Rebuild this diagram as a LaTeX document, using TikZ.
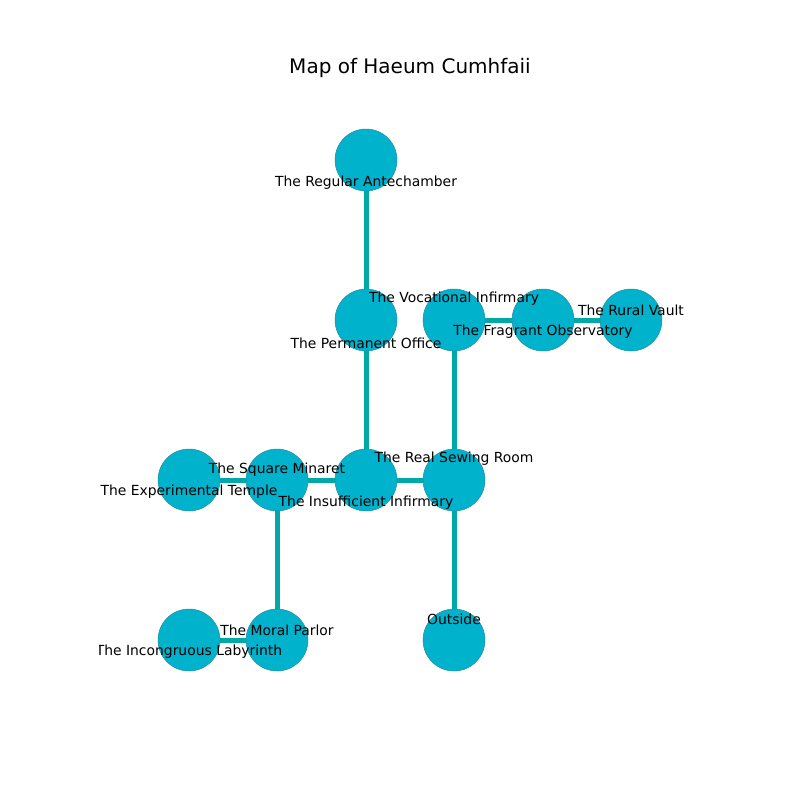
\documentclass[tikz,border=0pt]{standalone}
\usepackage{fontspec}
\setmainfont{DejaVu Sans}
\definecolor{nodefill}{RGB}{0,178,204}
\definecolor{nodeedge}{RGB}{40,140,160}
\definecolor{linkcol}{RGB}{0,168,168}
\begin{document}
\begin{tikzpicture}[x=1pt,y=-1pt,
  room/.style={circle,minimum size=62pt,inner sep=0pt,fill=nodefill,draw=nodeedge,line width=0.5pt},
  link/.style={draw=linkcol,line width=5pt},
  lbl/.style={inner sep=0pt,font=\fontsize{13.9}{16}\selectfont,text=black}]
\useasboundingbox (0,0) rectangle (800,800);
\node[font=\fontsize{20}{24}\selectfont] (title) at (410,68) {Map of Haeum Cumhfaii};
% node positions
\coordinate (pA) at (366,160);
\coordinate (pP) at (366,320);
\coordinate (pV) at (454,320);
\coordinate (pF) at (543,320);
\coordinate (pR) at (631,320);
\coordinate (pE) at (189,480);
\coordinate (pS) at (277,480);
\coordinate (pI) at (366,480);
\coordinate (pW) at (454,480);
\coordinate (pL) at (189,640);
\coordinate (pM) at (277,640);
\coordinate (pO) at (454,640);
% links
\draw[link] (pA) -- (pP);
\draw[link] (pP) -- (pI);
\draw[link] (pV) -- (pF);
\draw[link] (pF) -- (pR);
\draw[link] (pV) -- (pW);
\draw[link] (pE) -- (pS);
\draw[link] (pS) -- (pI);
\draw[link] (pI) -- (pW);
\draw[link] (pS) -- (pM);
\draw[link] (pM) -- (pL);
\draw[link] (pW) -- (pO);
% rooms
\node[room] (A) at (pA) {};
\node[room] (P) at (pP) {};
\node[room] (V) at (pV) {};
\node[room] (F) at (pF) {};
\node[room] (R) at (pR) {};
\node[room] (E) at (pE) {};
\node[room] (S) at (pS) {};
\node[room] (I) at (pI) {};
\node[room] (W) at (pW) {};
\node[room] (L) at (pL) {};
\node[room] (M) at (pM) {};
\node[room] (O) at (pO) {};
% labels
\begin{scope}
\clip (99,96) rectangle (720,704);
\node[lbl] (tA) at (366,183) {The Regular Antechamber};
\node[lbl] (tP) at (366,343) {The Permanent Office};
\node[lbl] (tV) at (454,299) {The Vocational Infirmary};
\node[lbl] (tF) at (543,332) {The Fragrant Observatory};
\node[lbl] (tR) at (631,310) {The Rural Vault};
\node[lbl] (tE) at (189,492) {The Experimental Temple};
\node[lbl] (tS) at (277,470) {The Square Minaret};
\node[lbl] (tI) at (366,503) {The Insufficient Infirmary};
\node[lbl] (tW) at (454,459) {The Real Sewing Room};
\node[lbl] (tL) at (189,652) {The Incongruous Labyrinth};
\node[lbl] (tM) at (277,630) {The Moral Parlor};
\node[lbl] (tO) at (454,619) {Outside};
\end{scope}
\end{tikzpicture}
\end{document}
